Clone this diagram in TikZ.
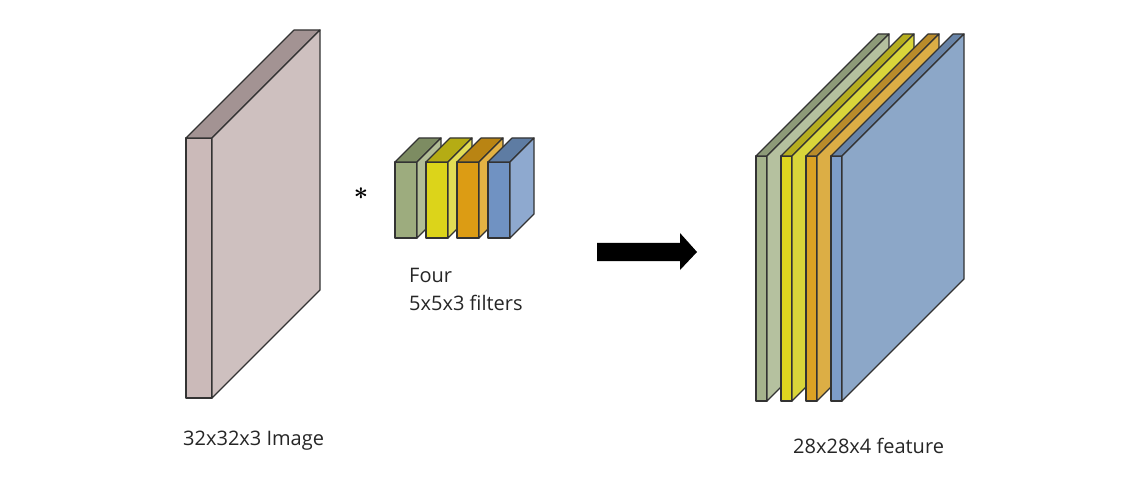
\documentclass[tikz,border=0pt]{standalone}
\usepackage{fontspec}
\setmainfont{Open Sans}
\definecolor{linecol}{HTML}{333333}
\definecolor{imgF}{HTML}{CBBAB9}
\definecolor{imgT}{HTML}{A39393}
\definecolor{imgS}{HTML}{CEC0BF}
\definecolor{fgF}{HTML}{9DAC7E}
\definecolor{fgT}{HTML}{7D8C62}
\definecolor{fgS}{HTML}{B2BE96}
\definecolor{fyF}{HTML}{DCD41A}
\definecolor{fyT}{HTML}{B5AC14}
\definecolor{fyS}{HTML}{E2DC55}
\definecolor{foF}{HTML}{DC9C14}
\definecolor{foT}{HTML}{B98413}
\definecolor{foS}{HTML}{E3B243}
\definecolor{fbF}{HTML}{7092C2}
\definecolor{fbT}{HTML}{5E7CA3}
\definecolor{fbS}{HTML}{8EA9CF}
\definecolor{mgF}{HTML}{A5B38C}
\definecolor{mgT}{HTML}{8D9A78}
\definecolor{mgS}{HTML}{B5C19F}
\definecolor{myF}{HTML}{DED61F}
\definecolor{myT}{HTML}{B6AE1F}
\definecolor{myS}{HTML}{D9D53A}
\definecolor{moF}{HTML}{DBA224}
\definecolor{moT}{HTML}{B98B2A}
\definecolor{moS}{HTML}{DCAE45}
\definecolor{mbF}{HTML}{7D9DC9}
\definecolor{mbT}{HTML}{6884A8}
\definecolor{mbS}{HTML}{8CA7C8}
% #1 x, #2 ytop, #3 ybot, #4 front width, #5 depth, #6 front, #7 top, #8 side
\newcommand\drawslab[8]{%
  \draw[slabline, fill=#6] (#1,#2) rectangle (#1+#4,#3);
  \draw[slabline, fill=#7] (#1,#2) -- (#1+#5,#2-#5) -- (#1+#4+#5,#2-#5) -- (#1+#4,#2) -- cycle;
  \draw[slabline, fill=#8] (#1+#4,#2) -- (#1+#4+#5,#2-#5) -- (#1+#4+#5,#3-#5) -- (#1+#4,#3) -- cycle;
}
\begin{document}
\begin{tikzpicture}[x=1pt,y=-1pt,
  slabline/.style={draw=linecol, line width=1.2pt, line join=round},
  lbl/.style={font=\fontsize{20}{24}\selectfont, text=black!85, inner sep=0pt, anchor=base west}]
\useasboundingbox (0,0) rectangle (1142,486);
\fill[white] (0,0) rectangle (1142,486);
% input image
\drawslab{186}{138}{398}{26}{108}{imgF}{imgT}{imgS}
% filters
\drawslab{395}{162}{238}{22}{24}{fgF}{fgT}{fgS}
\drawslab{426}{162}{238}{22}{24}{fyF}{fyT}{fyS}
\drawslab{457}{162}{238}{22}{24}{foF}{foT}{foS}
\drawslab{488}{162}{238}{22}{24}{fbF}{fbT}{fbS}
% feature maps
\drawslab{756}{156}{401}{11}{122}{mgF}{mgT}{mgS}
\drawslab{781}{156}{401}{11}{122}{myF}{myT}{myS}
\drawslab{806}{156}{401}{11}{122}{moF}{moT}{moS}
\drawslab{831}{156}{401}{11}{122}{mbF}{mbT}{mbS}
% arrow
\fill[black] (597,243) -- (680,243) -- (680,233) -- (697,252) -- (680,270) -- (680,261) -- (597,261) -- cycle;
% labels
\node[inner sep=0pt, font=\fontsize{38}{38}\selectfont\boldmath] (star) at (361,194) {$\ast$};
\node[lbl] (imglbl) at (183,445) {32x32x3 Image};
\node[lbl] (four) at (409,282) {Four};
\node[lbl] (filt) at (409,310) {5x5x3 filters};
\node[lbl] (feat) at (793,453) {28x28x4 feature};
\end{tikzpicture}
\end{document}
